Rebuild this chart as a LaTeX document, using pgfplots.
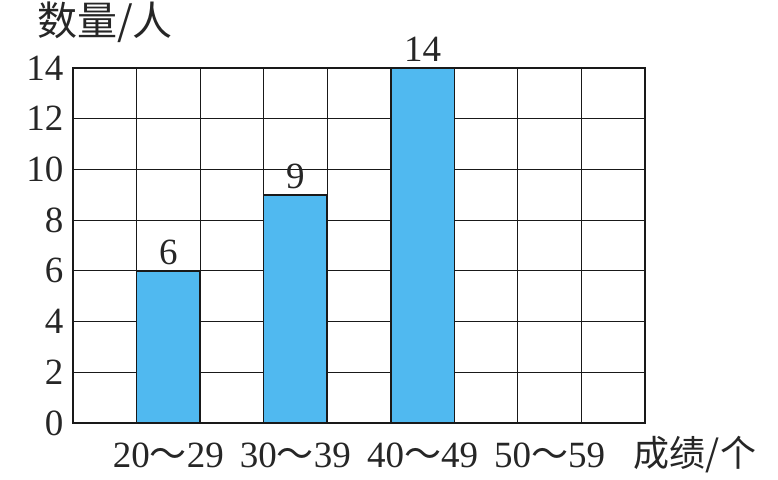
\documentclass[border=0pt]{standalone}
\usepackage{pgfplots}
\pgfplotsset{compat=1.18}
\usepackage{fontspec}
\setmainfont{Liberation Serif}
\newfontfamily\cjk{Noto Sans CJK SC}
\newcommand{\tl}{{\cjk ～}}
\definecolor{barblue}{RGB}{80,185,240}
\begin{document}
\begin{tikzpicture}
\path[use as bounding box] (-73pt,-56pt) rectangle (705pt,423pt);
\begin{axis}[
  at={(0,0)}, anchor=south west,
  scale only axis,
  width=572pt, height=355pt,
  xmin=0, xmax=9, ymin=0, ymax=14,
  xtick={1.5,3.5,5.5,7.5},
  xticklabels={20\tl29,30\tl39,40\tl49,50\tl59},
  ytick={0,2,...,14},
  minor xtick={1,2,...,8},
  minor ytick={},
  xmajorgrids=false,
  xminorgrids=true,
  ymajorgrids=true,
  grid style={black!90, line width=1.2pt},
  minor grid style={black!90, line width=1.2pt},
  axis line style={black!90, line width=1.5pt},
  tick style={draw=none},
  major tick length=0pt, minor tick length=0pt,
  /pgf/number format/assume math mode=true,
  tick label style={font=\fontsize{37}{40}\selectfont, text=black!85},
  yticklabel style={xshift=-6pt},
  xticklabel style={anchor=center, yshift=-32pt},
  axis on top=false,
  clip=false,
]
\addplot[ybar, bar width=1, bar shift=0, fill=barblue, draw=black!90, line width=1.5pt,
  nodes near coords,
  nodes near coords style={font=\fontsize{37}{40}\selectfont, text=black!85, anchor=south, yshift=2pt}]
  coordinates {(1.5,6) (3.5,9) (5.5,14)};
\node[font=\cjk\fontsize{40}{44}\selectfont, text=black!85, anchor=center] at (axis cs:0,0) [xshift=32pt, yshift=401pt] {数量/人};
\node[font=\cjk\fontsize{36}{40}\selectfont, text=black!85, anchor=center] at (axis cs:0,0) [xshift=622pt, yshift=-32pt] {成绩/个};
\end{axis}
\end{tikzpicture}
\end{document}
